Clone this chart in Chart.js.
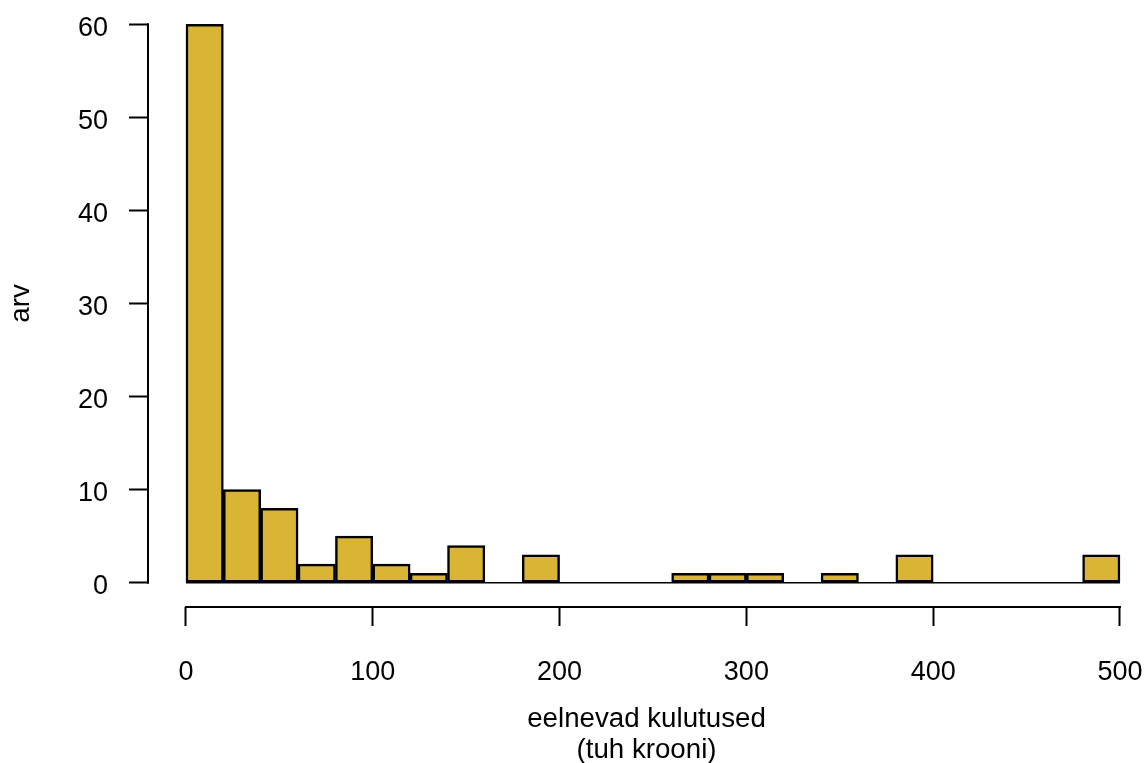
<!DOCTYPE html>
<html><head><meta charset="utf-8">
<script src="https://cdn.jsdelivr.net/npm/chart.js@4/dist/chart.umd.min.js"></script>
<style>html,body{margin:0;padding:0;background:#fff}#wrap{width:1145px;height:763px}</style>
</head><body><div id="wrap"><canvas id="c" width="1145" height="763"></canvas></div>
<script>
const binStart = 0;
const binWidth = 20;
const counts = [60,10,8,2,5,2,1,4,0,3,0,0,0,1,1,1,0,1,0,3,0,0,0,0,3];
const xTicks = [0,100,200,300,400,500];
const yTicks = [0,10,20,30,40,50,60];
const xTitle = ['eelnevad kulutused','(tuh krooni)'];
const yTitle = 'arv';

const FONT = 'Liberation Sans, Arial, Helvetica, sans-serif';
const barData = counts.map((c,i)=>({x: binStart + binWidth*(i+0.5), y: c}));
const baseData = [{x: binStart, y: 0}, {x: binStart + binWidth*counts.length, y: 0}];

function zeroPad(s){ s.paddingLeft=0; s.paddingRight=0; s.paddingTop=0; s.paddingBottom=0; }

const axisLines = {
  id: 'axisLines',
  afterDraw(chart){
    const {ctx, scales:{x, y}} = chart;
    ctx.save();
    ctx.strokeStyle = '#000';
    ctx.lineWidth = 2;
    ctx.lineCap = 'square';
    ctx.beginPath();
    const yx = y.right;
    ctx.moveTo(yx, y.getPixelForValue(yTicks[0]));
    ctx.lineTo(yx, y.getPixelForValue(yTicks[yTicks.length-1]));
    const xy = x.top;
    ctx.moveTo(x.getPixelForValue(xTicks[0]), xy);
    ctx.lineTo(x.getPixelForValue(xTicks[xTicks.length-1]), xy);
    ctx.stroke();
    ctx.restore();
  }
};

new Chart(document.getElementById('c'), {
  data: {
    datasets: [
      {
        type: 'bar',
        data: barData,
        backgroundColor: '#DAB535',
        borderColor: '#000',
        borderWidth: 2.5,
        borderSkipped: false,
        barPercentage: 1,
        categoryPercentage: 1,
        order: 1
      },
      {
        type: 'line',
        data: baseData,
        borderColor: '#000',
        borderWidth: 1.5,
        pointRadius: 0,
        fill: false,
        order: 2
      }
    ]
  },
  options: {
    responsive: false,
    devicePixelRatio: 1,
    animation: false,
    layout: { padding: 0 },
    plugins: { legend: {display:false}, tooltip: {enabled:false} },
    scales: {
      x: {
        type: 'linear',
        offset: false,
        min: -20.34,
        max: 513.4,
        afterBuildTicks: s => { s.ticks = xTicks.map(v=>({value:v})); },
        afterFit: s => { s.height = 156; zeroPad(s); },
        ticks: { font:{family:FONT, size:27}, color:'#000', padding:30, maxRotation:0, autoSkip:false },
        grid: { offset:false, drawOnChartArea:false, drawTicks:true, tickLength:19, tickWidth:2, tickColor:'#000' },
        border: { display:false },
        title: { display:true, text:xTitle, color:'#000', font:{family:FONT, size:27.7, lineHeight:1.13}, padding:{top:0,bottom:-3} }
      },
      y: {
        type: 'linear',
        offset: false,
        min: -2.61,
        max: 62.61,
        afterBuildTicks: s => { s.ticks = yTicks.map(v=>({value:v})); },
        afterFit: s => { s.width = 148; zeroPad(s); },
        ticks: { font:{family:FONT, size:27}, color:'#000', padding:21, labelOffset:4 },
        grid: { offset:false, drawOnChartArea:false, drawTicks:true, tickLength:19, tickWidth:2, tickColor:'#000' },
        border: { display:false },
        title: { display:true, text:yTitle, color:'#000', font:{family:FONT, size:27.7, lineHeight:1.13}, padding:{top:6,bottom:0} }
      }
    }
  },
  plugins: [axisLines]
});
</script>
</body></html>
